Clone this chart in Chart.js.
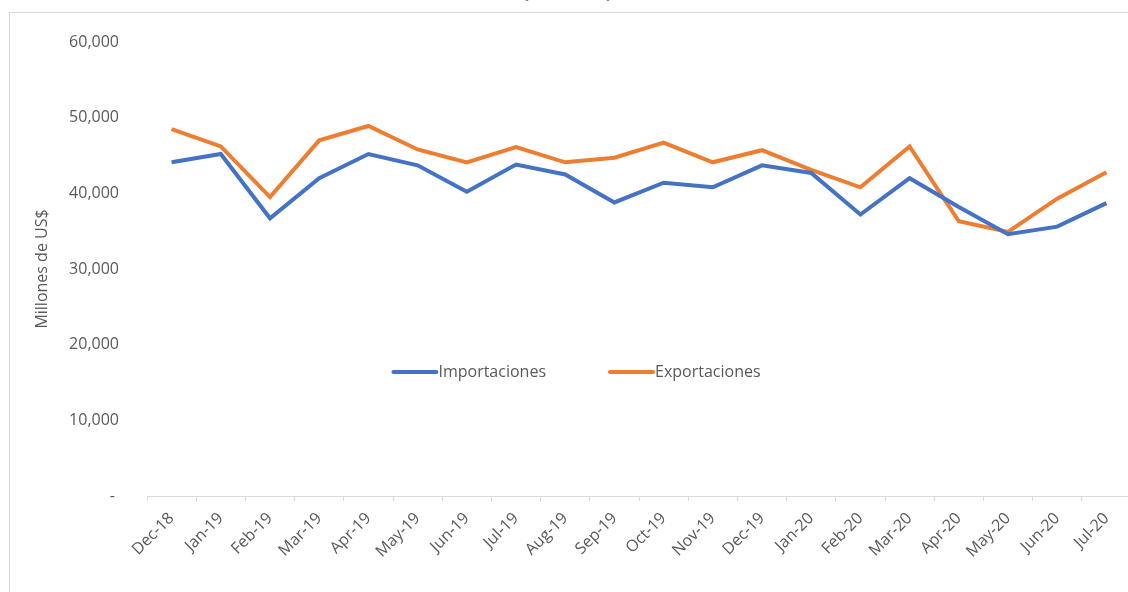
<!DOCTYPE html>
<html>
<head>
<meta charset="utf-8">
<script src="https://cdn.jsdelivr.net/npm/chart.js@4"></script>
<style>
    html, body { margin: 0; padding: 0; background: #fff; overflow: hidden; }
    body { width: 1128px; height: 592px; position: relative; font-family: 'Open Sans', sans-serif; }
    .frame { position: absolute; left: 9px; top: 12px; width: 1200px; height: 700px; border: 1px solid #d9d9d9; box-sizing: border-box; }
    .title { position: absolute; top: -21px; left: 0; width: 1135px; text-align: center; font-size: 18px; font-weight: bold; color: #595959; }
    .chart-box { position: absolute; left: 0; top: 0; width: 1131px; height: 592px; }
</style>
</head>
<body>
<div class="frame"></div>
<div class="title">(Mill. US$)</div>
<div class="chart-box"><canvas id="tradeChart"></canvas></div>
<script>
// Données (millones de US$)
const meses = ['Dec-18', 'Jan-19', 'Feb-19', 'Mar-19', 'Apr-19', 'May-19', 'Jun-19', 'Jul-19', 'Aug-19', 'Sep-19',
    'Oct-19', 'Nov-19', 'Dec-19', 'Jan-20', 'Feb-20', 'Mar-20', 'Apr-20', 'May-20', 'Jun-20', 'Jul-20'];
const importaciones = [44100, 45200, 36700, 42000, 45200, 43700, 40200, 43800, 42500, 38800,
    41400, 40800, 43700, 42700, 37200, 42000, 38200, 34600, 35600, 38700];
const exportaciones = [48500, 46200, 39500, 47000, 48900, 45800, 44100, 46100, 44100, 44700,
    46700, 44100, 45700, 43100, 40800, 46200, 36300, 34900, 39300, 42800];
const yTicks = [0, 10000, 20000, 30000, 40000, 50000, 60000];

const textColor = '#595959';
const fontFamily = "'Open Sans', sans-serif";

// Légende dessinée à l'intérieur de la zone du graphique
const innerLegend = {
    id: 'innerLegend',
    afterDraw(chart, args, opts) {
        const ctx = chart.ctx;
        const area = chart.chartArea;
        const y = area.top + (area.bottom - area.top) * opts.yRatio;
        ctx.save();
        ctx.font = '16px ' + fontFamily;
        ctx.textBaseline = 'middle';
        const items = chart.data.datasets.map(ds => ({ text: ds.label, color: ds.borderColor }));
        const widths = items.map(it => opts.lineLen + opts.gap + ctx.measureText(it.text).width);
        const total = widths.reduce((a, b) => a + b, 0) + opts.spacing * (items.length - 1);
        let x = opts.centerX - total / 2;
        items.forEach((it, i) => {
            ctx.strokeStyle = it.color;
            ctx.lineWidth = 4;
            ctx.lineCap = 'round';
            ctx.beginPath();
            ctx.moveTo(x, y);
            ctx.lineTo(x + opts.lineLen, y);
            ctx.stroke();
            ctx.fillStyle = textColor;
            ctx.fillText(it.text, x + opts.lineLen + opts.gap, y);
            x += widths[i] + opts.spacing;
        });
        ctx.restore();
    }
};

const ctx = document.getElementById('tradeChart').getContext('2d');
new Chart(ctx, {
    type: 'line',
    data: {
        labels: meses,
        datasets: [{
            label: 'Importaciones',
            data: importaciones,
            borderColor: '#4472C4',
            backgroundColor: '#4472C4',
            borderWidth: 4,
            pointRadius: 0,
            tension: 0
        }, {
            label: 'Exportaciones',
            data: exportaciones,
            borderColor: '#ED7D31',
            backgroundColor: '#ED7D31',
            borderWidth: 4,
            pointRadius: 0,
            tension: 0
        }]
    },
    options: {
        responsive: true,
        maintainAspectRatio: false,
        animation: false,
        layout: { padding: { top: 42, left: 20, right: 0, bottom: 0 } },
        plugins: {
            legend: { display: false },
            tooltip: { enabled: false },
            innerLegend: { centerX: 577, yRatio: 0.727, lineLen: 43, gap: 2, spacing: 64 }
        },
        scales: {
            x: {
                offset: true,
                grid: {
                    offset: true,
                    drawOnChartArea: false,
                    drawTicks: true,
                    tickLength: 5,
                    color: '#d9d9d9'
                },
                border: { display: true, color: '#d9d9d9', width: 1 },
                ticks: {
                    color: textColor,
                    font: { family: fontFamily, size: 16 },
                    minRotation: 45,
                    maxRotation: 45,
                    padding: 8,
                    autoSkip: false
                },
                afterFit: scale => { scale.height = 96; }
            },
            y: {
                min: 0,
                max: 60000,
                afterBuildTicks: scale => { scale.ticks = yTicks.map(v => ({ value: v })); },
                grid: { display: false },
                border: { display: false },
                ticks: {
                    color: textColor,
                    font: { family: fontFamily, size: 16 },
                    padding: 20,
                    callback: value => value === 0 ? '- ' : value.toLocaleString('en-US')
                },
                title: {
                    display: true,
                    text: 'Millones de US$',
                    color: textColor,
                    font: { family: fontFamily, size: 16 },
                    padding: { top: 13, bottom: 0 }
                },
                afterFit: scale => { scale.width = 127; }
            }
        }
    },
    plugins: [innerLegend]
});
</script>
</body>
</html>
